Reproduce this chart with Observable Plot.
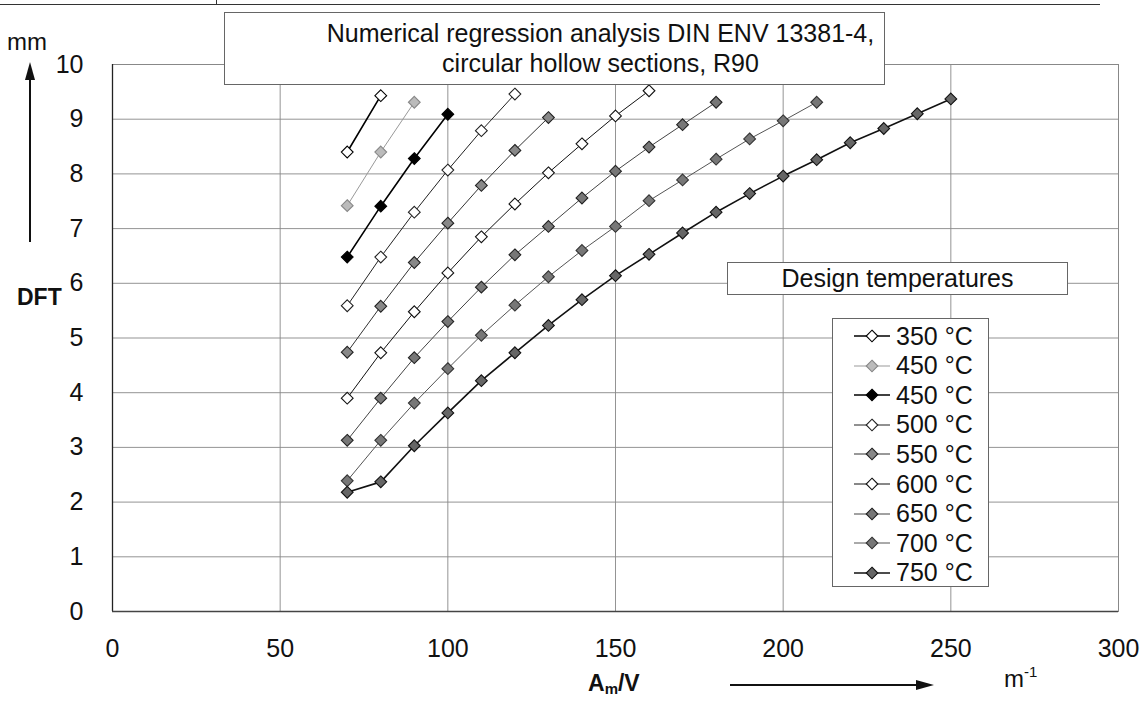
<!DOCTYPE html>
<html><head><meta charset="utf-8">
<script src="https://cdn.jsdelivr.net/npm/d3@7"></script>
<script src="https://cdn.jsdelivr.net/npm/@observablehq/plot@0.6"></script>
<style>
body{margin:0;background:#fff;}
#wrap{position:relative;width:1144px;height:701px;font-family:"Liberation Sans",Arial,sans-serif;color:#111;overflow:hidden;}
#wrap > svg{position:absolute;left:0;top:0;}
.box{position:absolute;background:#fff;border:1px solid #666;box-sizing:border-box;}
.lbl{position:absolute;white-space:nowrap;line-height:1;}
</style></head>
<body><div id="wrap"></div>
<script>
// ---- data ----
const xTicks = [0, 50, 100, 150, 200, 250, 300];
const yTicks = [0, 1, 2, 3, 4, 5, 6, 7, 8, 9, 10];
const seriesNames = ["350 °C", "450 °C", "450 °C", "500 °C", "550 °C", "600 °C", "650 °C", "700 °C", "750 °C"];

const am350 = [70, 80];
const dft350 = [8.40, 9.43];
const am450a = [70, 80, 90];
const dft450a = [7.42, 8.40, 9.31];
const am450b = [70, 80, 90, 100];
const dft450b = [6.48, 7.41, 8.28, 9.09];
const am500 = [70, 80, 90, 100, 110, 120];
const dft500 = [5.59, 6.48, 7.30, 8.07, 8.79, 9.46];
const am550 = [70, 80, 90, 100, 110, 120, 130];
const dft550 = [4.74, 5.58, 6.38, 7.10, 7.79, 8.43, 9.03];
const am600 = [70, 80, 90, 100, 110, 120, 130, 140, 150, 160];
const dft600 = [3.90, 4.73, 5.48, 6.19, 6.85, 7.45, 8.02, 8.55, 9.06, 9.52];
const am650 = [70, 80, 90, 100, 110, 120, 130, 140, 150, 160, 170, 180];
const dft650 = [3.13, 3.90, 4.64, 5.30, 5.93, 6.52, 7.04, 7.56, 8.05, 8.49, 8.90, 9.31];
const am700 = [70, 80, 90, 100, 110, 120, 130, 140, 150, 160, 170, 180, 190, 200, 210];
const dft700 = [2.39, 3.13, 3.81, 4.44, 5.05, 5.60, 6.12, 6.60, 7.04, 7.51, 7.89, 8.27, 8.64, 8.97, 9.31];
const am750 = [70, 80, 90, 100, 110, 120, 130, 140, 150, 160, 170, 180, 190, 200, 210, 220, 230, 240, 250];
const dft750 = [2.18, 2.37, 3.03, 3.63, 4.22, 4.73, 5.23, 5.70, 6.14, 6.53, 6.92, 7.30, 7.64, 7.96, 8.26, 8.57, 8.83, 9.10, 9.37];

// ---- styles ----
const styles = [
  {line: "#000", lw: 1.6, fill: "#fff", stroke: "#000"},
  {line: "#999", lw: 1, fill: "#bbb", stroke: "#888"},
  {line: "#000", lw: 1.6, fill: "#000", stroke: "#000"},
  {line: "#222", lw: 1, fill: "#fff", stroke: "#222"},
  {line: "#333", lw: 1, fill: "#888", stroke: "#222"},
  {line: "#111", lw: 1, fill: "#fff", stroke: "#111"},
  {line: "#444", lw: 1, fill: "#777", stroke: "#222"},
  {line: "#555", lw: 1, fill: "#777", stroke: "#333"},
  {line: "#111", lw: 1.6, fill: "#666", stroke: "#111"}
];
const xs = [am350, am450a, am450b, am500, am550, am600, am650, am700, am750];
const ys = [dft350, dft450a, dft450b, dft500, dft550, dft600, dft650, dft700, dft750];
const tables = xs.map((arr, i) => arr.map((x, j) => ({x, y: ys[i][j], s: i})));

const font = '"Liberation Sans", Arial, sans-serif';
const marks = [
  Plot.gridX(xTicks, {stroke: "#888", strokeOpacity: 0.9, strokeWidth: 1}),
  Plot.gridY(yTicks, {stroke: "#888", strokeOpacity: 0.9, strokeWidth: 1}),
  Plot.frame({stroke: "#888"}),
  Plot.ruleX([0], {stroke: "#222", strokeWidth: 1.3}),
  Plot.ruleY([0], {stroke: "#444", strokeWidth: 1.3}),
  Plot.axisX(xTicks, {tickSize: 0, tickPadding: 28, fontSize: 25, label: null, tickFormat: d => String(d)}),
  Plot.axisY(yTicks, {tickSize: 0, tickPadding: 29, fontSize: 25, label: null, tickFormat: d => String(d)})
];
tables.forEach((t, i) => {
  const st = styles[i];
  marks.push(Plot.line(t, {x: "x", y: "y", stroke: st.line, strokeWidth: st.lw}));
  marks.push(Plot.dot(t, {x: "x", y: "y", symbol: "diamond2", r: 5.3, fill: st.fill, stroke: st.stroke, strokeWidth: 1.1}));
});

const chart = Plot.plot({
  width: 1144, height: 701,
  marginLeft: 112, marginRight: 26, marginTop: 64, marginBottom: 90,
  x: {domain: [0, 300]},
  y: {domain: [0, 10]},
  style: {fontFamily: font, fontSize: "25px", background: "#fff", color: "#111"},
  marks
});
const wrap = document.getElementById("wrap");
wrap.appendChild(chart);

function add(html, css, cls) {
  const d = document.createElement("div");
  d.className = cls || "lbl";
  d.innerHTML = html;
  Object.assign(d.style, css);
  wrap.appendChild(d);
  return d;
}
// scan border at top
add("", {left: "0px", top: "4px", width: "1100px", height: "0px", borderTop: "1.5px solid #333"}, "lbl");
add("", {left: "216px", top: "0px", width: "0px", height: "5px", borderLeft: "1.5px solid #333"}, "lbl");

// title box
add('<div style="line-height:30px;padding-top:5px;padding-left:92px;text-align:center;font-size:25px;white-space:nowrap">Numerical regression analysis DIN ENV 13381-4,<br>circular hollow sections, R90</div>',
  {left: "224px", top: "12px", width: "661px", height: "73px"}, "box");

// design temperatures box
add('<div style="line-height:31px;text-align:center;font-size:25px">Design temperatures</div>',
  {left: "727px", top: "262px", width: "341px", height: "33px"}, "box");

// legend box
let leg = '';
seriesNames.forEach((n, i) => {
  const st = styles[i];
  leg += `<div style="position:absolute;left:20px;top:${3 + i * 29.6}px;height:28px;display:flex;align-items:center;font-size:25px;white-space:nowrap">
  <svg width="38" height="20" style="margin-right:5px"><line x1="1" x2="37" y1="10" y2="10" stroke="${st.line}" stroke-width="${st.lw}"/>
  <path d="M19,4.2L24.8,10L19,15.8L13.2,10Z" fill="${st.fill}" stroke="${st.stroke}" stroke-width="1.1"/></svg>${n}</div>`;
});
add(leg, {left: "832px", top: "318px", width: "157px", height: "269px"}, "box");

// axis labels
add("mm", {left: "7px", top: "30px", fontSize: "24px"});
add("DFT", {left: "17px", top: "286px", fontSize: "23px", fontWeight: "bold"});
add('A<sub style="font-size:15px;vertical-align:-3px;line-height:1">m</sub>/V', {left: "588px", top: "672px", fontSize: "23px", fontWeight: "bold"});
add('m<sup style="font-size:15px;vertical-align:10px;line-height:1">-1</sup>', {left: "1004px", top: "664px", fontSize: "24px"});

// arrows
const ns = "http://www.w3.org/2000/svg";
const ov = document.createElementNS(ns, "svg");
ov.setAttribute("width", 1144); ov.setAttribute("height", 701);
ov.style.position = "absolute"; ov.style.left = "0"; ov.style.top = "0"; ov.style.pointerEvents = "none";
ov.innerHTML = `
<line x1="30" x2="30" y1="242" y2="76" stroke="#111" stroke-width="2"/>
<path d="M30,62 L25,80 L35,80 Z" fill="#111"/>
<line x1="730" x2="918" y1="685" y2="685" stroke="#111" stroke-width="2"/>
<path d="M934,685 L916,680 L916,690 Z" fill="#111"/>`;
wrap.appendChild(ov);
</script>
</body></html>
